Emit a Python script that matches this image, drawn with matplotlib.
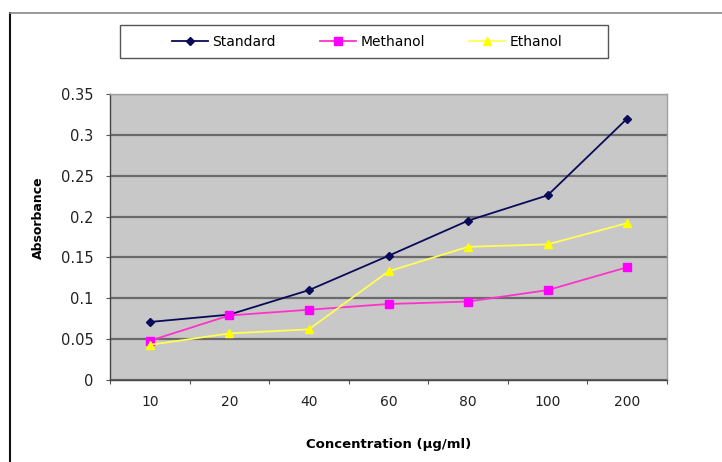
import matplotlib
matplotlib.use("Agg")
import matplotlib.pyplot as plt
from matplotlib.lines import Line2D
from matplotlib.patches import Rectangle

categories = ["10", "20", "40", "60", "80", "100", "200"]
standard = [0.071, 0.080, 0.110, 0.152, 0.195, 0.226, 0.320]
methanol = [0.048, 0.079, 0.086, 0.093, 0.096, 0.110, 0.138]
ethanol = [0.043, 0.057, 0.062, 0.133, 0.163, 0.166, 0.192]
yticks = [0, 0.05, 0.1, 0.15, 0.2, 0.25, 0.3, 0.35]
ytick_labels = ["0", "0.05", "0.1", "0.15", "0.2", "0.25", "0.3", "0.35"]

plt.rcParams['font.family'] = ['DejaVu Sans']

W, H = 722, 462
fig = plt.figure(figsize=(W / 100, H / 100), dpi=100)
ax = fig.add_axes([110 / W, 1 - 380 / H, (667 - 110) / W, (380 - 94) / H])
ax.set_facecolor("#c8c8c8")

x = list(range(1, len(categories) + 1))
l1, = ax.plot(x, standard, color="#0a0a5a", lw=1.3, marker="D", ms=4, label="Standard", zorder=3)
l2, = ax.plot(x, methanol, color="#ff33cc", lw=1.3, marker="s", ms=6, mfc="#ff00ff", mec="#ff00ff", label="Methanol", zorder=3)
l3, = ax.plot(x, ethanol, color="#ffff55", lw=1.3, marker="^", ms=6, mfc="#ffff00", mec="#ffff00", label="Ethanol", zorder=3)

ax.set_xlim(0.5, len(categories) + 0.5)
ax.set_ylim(0, 0.35)
ax.set_yticks(yticks)
ax.set_yticklabels(ytick_labels)
ax.yaxis.grid(True, color="#6a6a6a", lw=1.6)
ax.set_axisbelow(True)

ax.set_xticks([i + 0.5 for i in range(0, len(categories) + 1)])
ax.set_xticklabels([])
ax.set_xticks(x, minor=True)
ax.set_xticklabels(categories, minor=True)
ax.tick_params(axis="x", which="minor", length=0, pad=11, labelsize=10, labelcolor="#222222")
ax.tick_params(axis="x", which="major", length=3, color="#555555")
ax.tick_params(axis="y", length=3, color="#555555", labelsize=10.5, labelcolor="#222222", pad=9)

for side in ["left", "bottom"]:
    ax.spines[side].set_color("#444444")
    ax.spines[side].set_linewidth(1.0)
for side in ["top", "right"]:
    ax.spines[side].set_color("#a0a0a0")
    ax.spines[side].set_linewidth(1.0)

ax.set_xlabel("Concentration (µg/ml)", fontsize=9.5, fontweight="bold", labelpad=21)
ax.set_ylabel("Absorbance", fontsize=9, fontweight="bold")
ax.yaxis.set_label_coords(-0.116, 0.566)

# legend box
fig.add_artist(Rectangle((120 / W, 1 - 58 / H), 488 / W, 33 / H, transform=fig.transFigure,
                         facecolor="white", edgecolor="#555555", lw=1.0))
fig.legend(handles=[l1, l2, l3], loc="center", bbox_to_anchor=(367 / W, 1 - 41.5 / H),
           ncol=3, frameon=False, fontsize=10,
           handlelength=2.6, handletextpad=0.3, columnspacing=3.2, markerscale=0.9)

fig.add_artist(Line2D([10 / W, 10 / W], [0, 1 - 13 / H], transform=fig.transFigure, color="#111111", lw=1.5))
fig.add_artist(Line2D([10 / W, 1], [1 - 13 / H, 1 - 13 / H], transform=fig.transFigure, color="#888888", lw=1.2))

fig.savefig("out.png", dpi=100)
